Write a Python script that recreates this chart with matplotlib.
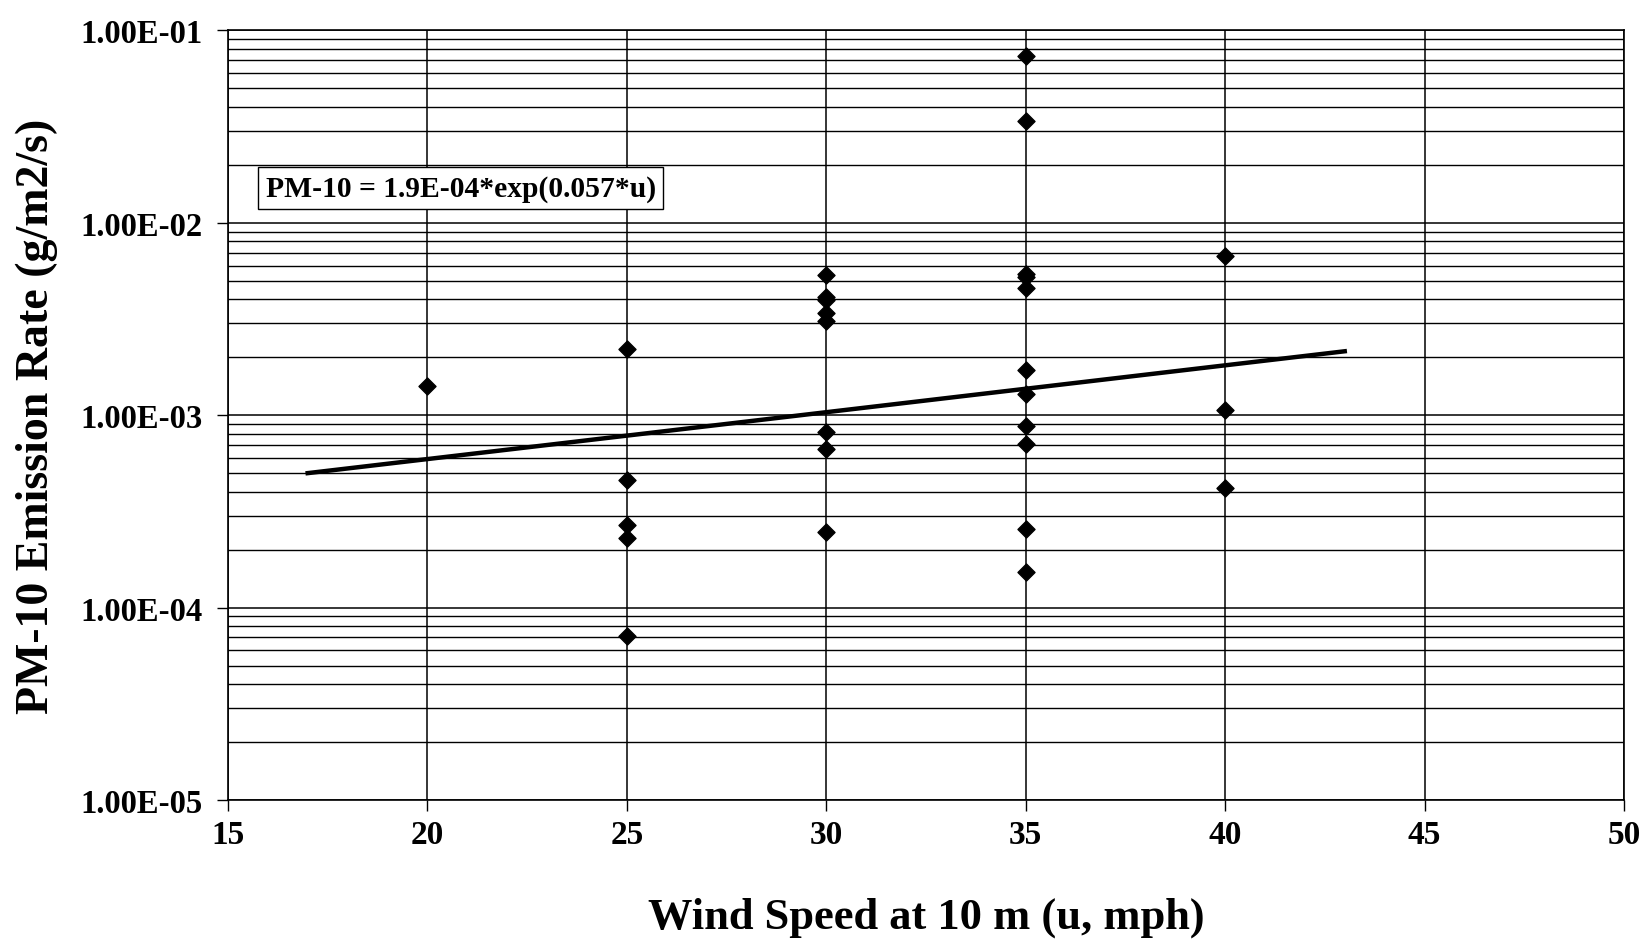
import matplotlib
matplotlib.use("Agg")
import matplotlib.pyplot as plt
from matplotlib.ticker import LogLocator, FixedLocator, NullFormatter

plt.rcParams['font.family'] = ['Liberation Serif', 'DejaVu Serif']
plt.rcParams['font.weight'] = 'bold'

# Data: wind speed (mph) and PM-10 emission rate (g/m2/s)
wind_speed = [20,
              25, 25, 25, 25, 25,
              30, 30, 30, 30, 30, 30, 30, 30,
              35, 35, 35, 35, 35, 35, 35, 35, 35, 35, 35,
              40, 40, 40]
emission = [1.42e-3,
            2.2e-3, 4.6e-4, 2.7e-4, 2.3e-4, 7.1e-5,
            5.35e-3, 4.1e-3, 3.95e-3, 3.4e-3, 3.1e-3, 8.2e-4, 6.7e-4, 2.46e-4,
            7.4e-2, 3.4e-2, 5.4e-3, 5.2e-3, 4.6e-3, 1.72e-3, 1.29e-3, 8.8e-4, 7.1e-4, 2.56e-4, 1.54e-4,
            6.7e-3, 1.07e-3, 4.2e-4]

# Exponential trend line endpoints (straight on log axis)
trend_x = [17, 43]
trend_y = [5.0e-4, 2.15e-3]

x_ticks = [15, 20, 25, 30, 35, 40, 45, 50]
y_ticks = [1e-5, 1e-4, 1e-3, 1e-2, 1e-1]
y_tick_labels = ["1.00E-05", "1.00E-04", "1.00E-03", "1.00E-02", "1.00E-01"]
equation = "PM-10 = 1.9E-04*exp(0.057*u)"

fig = plt.figure(figsize=(16.48, 9.45), dpi=100)
ax = fig.add_axes([0.1383, 0.1524, 0.8471, 0.8143])
ax.set_yscale('log')
ax.set_xlim(15, 50)
ax.set_ylim(1e-5, 1e-1)

ax.xaxis.set_major_locator(FixedLocator(x_ticks))
ax.set_xticklabels([str(t) for t in x_ticks], fontsize=24, fontweight='bold')
ax.yaxis.set_major_locator(FixedLocator(y_ticks))
ax.set_yticklabels(y_tick_labels, fontsize=23.5, fontweight='bold')
ax.yaxis.set_minor_locator(LogLocator(base=10, subs=range(2, 10)))
ax.yaxis.set_minor_formatter(NullFormatter())

ax.grid(True, which='major', axis='both', color='black', linewidth=1.1)
ax.grid(True, which='minor', axis='y', color='black', linewidth=1.0)
ax.set_axisbelow(True)

ax.tick_params(axis='both', which='major', direction='out', length=8, width=1, color='black')
ax.tick_params(axis='x', which='major', pad=6)
ax.tick_params(axis='y', which='major', pad=10)
ax.tick_params(axis='y', which='minor', length=0)

for s in ['left', 'bottom', 'right', 'top']:
    ax.spines[s].set_color('black')
    ax.spines[s].set_linewidth(1.2)

ax.plot(trend_x, trend_y, color='black', linewidth=3.2, zorder=3)
ax.scatter(wind_speed, emission, marker='D', s=75, color='black', zorder=4)

ax.text(0.027, 0.795, equation, transform=ax.transAxes, fontsize=21.3, fontweight='bold',
        va='center', ha='left',
        bbox=dict(boxstyle='square,pad=0.25', facecolor='white', edgecolor='black', linewidth=1))

ax.set_xlabel("Wind Speed at 10 m (u, mph)", fontsize=32, fontweight='bold', labelpad=33)
ax.set_ylabel("PM-10 Emission Rate (g/m2/s)", fontsize=33, fontweight='bold', labelpad=16)

fig.savefig("out.png", dpi=100)
